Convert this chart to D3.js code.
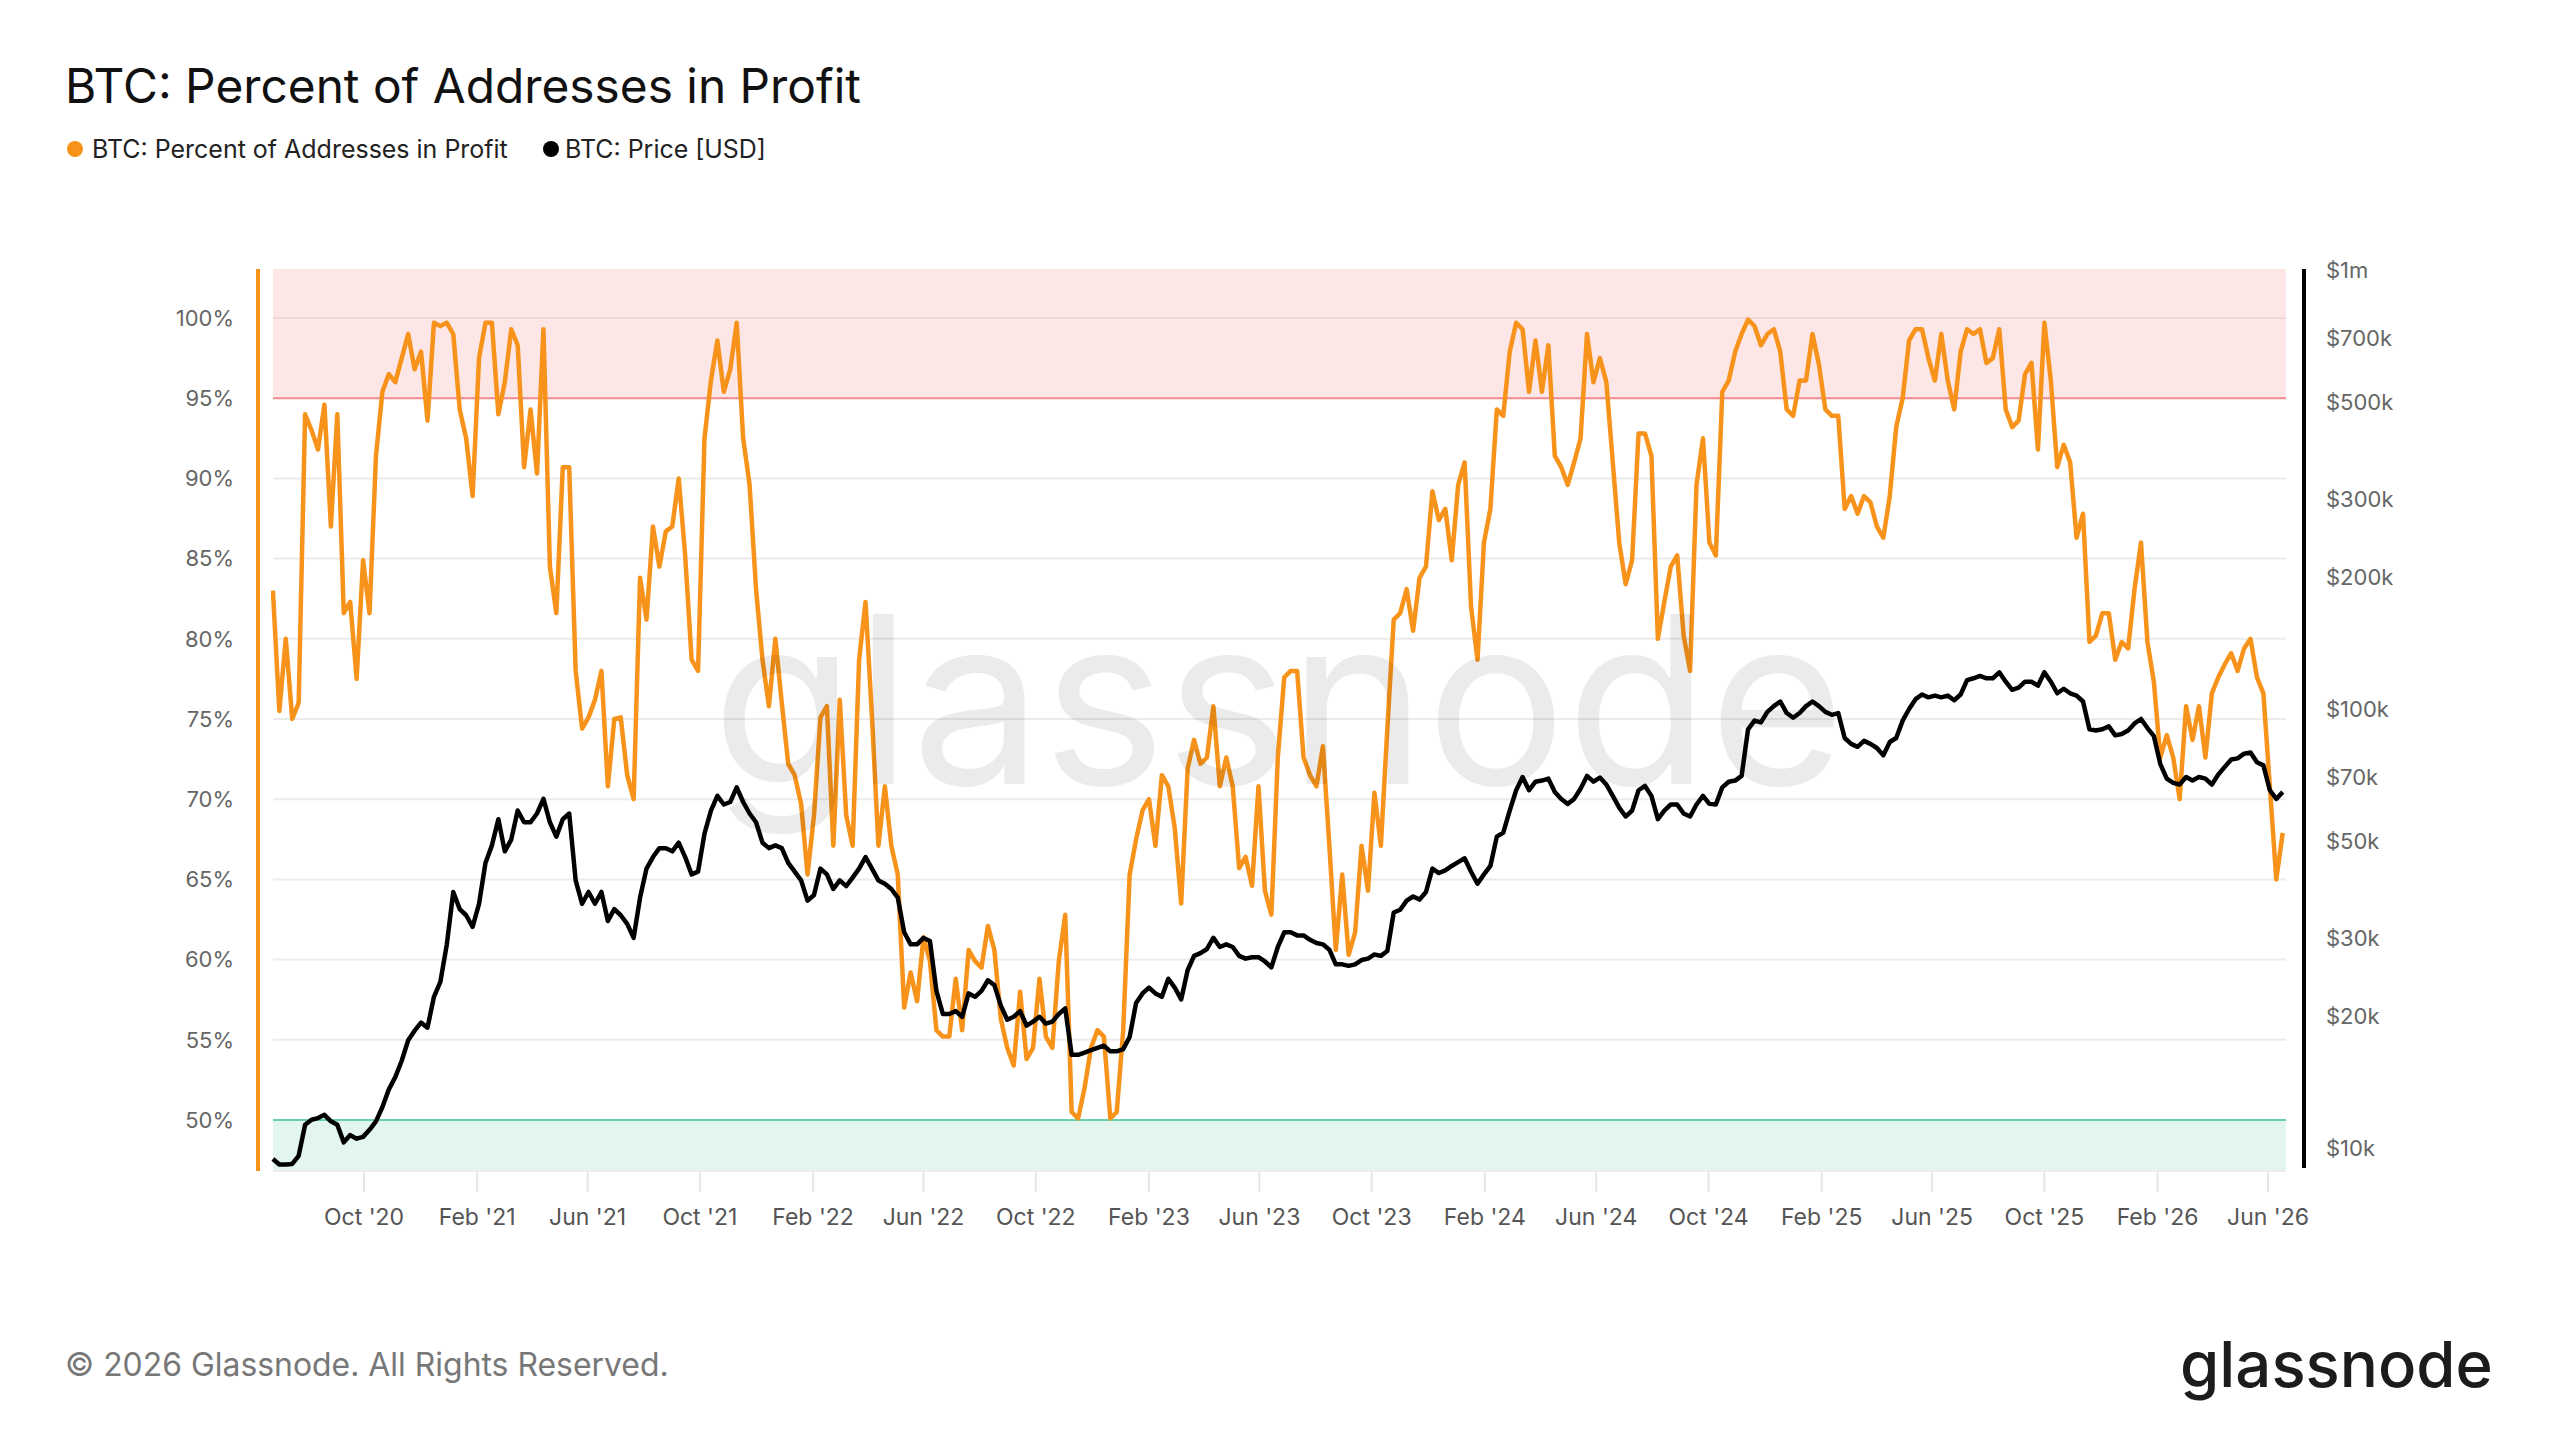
<!DOCTYPE html>
<html>
<head>
<meta charset="utf-8">
<title>BTC: Percent of Addresses in Profit</title>
<script src="https://cdn.jsdelivr.net/npm/d3@7"></script>
<style>
  html, body { margin: 0; padding: 0; background: #fff; }
  svg { display: block; font-family: Inter, "Noto Sans", sans-serif; }
</style>
</head>
<body>
<div id="chart"></div>
<script>
'use strict';

// one sample per week, starting here
var firstDay = '2020-06-24';

// BTC: Percent of Addresses in Profit (%)
var profitPct = [
  83, 75.5, 80, 75, 76, 94, 93, 91.8, 94.6, 87,
  94, 81.6, 82.3, 77.5, 84.9, 81.6, 91.4, 95.4, 96.5, 96,
  97.5, 99, 96.8, 97.9, 93.6, 99.7, 99.5, 99.7, 99, 94.3,
  92.5, 88.9, 97.5, 99.7, 99.7, 94, 96, 99.3, 98.3, 90.7,
  94.3, 90.3, 99.3, 84.5, 81.6, 90.7, 90.7, 78, 74.4, 75.1,
  76.2, 78, 70.8,
  75, 75.1, 71.5, 70, 83.8, 81.2, 87,
  84.5, 86.7, 87, 90, 85.2, 78.7, 78, 92.5, 96.1, 98.6,
  95.4, 96.8, 99.7, 92.5, 89.6, 83.1, 78.7, 75.8, 80, 76,
  72.2, 71.5, 69.7, 65.3, 69, 75.1, 75.8, 67.1, 76.2, 69,
  67.1, 78.7, 82.3, 75.1, 67.1, 70.8, 67.1, 65.3, 57, 59.2,
  57.4, 61.4, 59.9, 55.6, 55.2, 55.2,
  58.8, 55.6, 60.6, 59.9,
  59.5, 62.1, 60.6, 56.3, 54.5, 53.4, 58, 53.8, 54.5, 58.8,
  55.2, 54.5, 59.9, 62.8, 50.5, 50.1, 52, 54.5, 55.6, 55.2,
  50.1, 50.5, 55.6, 65.3, 67.5, 69.3, 70, 67.1, 71.5, 70.8,
  68.2, 63.5, 71.9, 73.7, 72.2, 72.6, 75.8, 70.8, 72.6, 70.8,
  65.7, 66.4, 64.6, 70.8, 64.3, 62.8, 72.6, 77.6,
  78, 78,
  72.6, 71.5, 70.8, 73.3, 67.1, 60.6, 65.3, 60.3, 61.7, 67.1,
  64.3, 70.4, 67.1, 74.4, 81.2, 81.6, 83.1, 80.5, 83.8, 84.5,
  89.2, 87.4, 88.1, 84.9, 89.6, 91, 82, 78.7, 86, 88.1,
  94.3, 93.9, 97.9, 99.7, 99.3, 95.4, 98.6, 95.4, 98.3, 91.4,
  90.7, 89.6, 91, 92.5, 99, 96, 97.5, 96, 91, 86,
  83.4,
  84.9, 92.8, 92.8, 91.4, 80, 82.3, 84.5, 85.2, 80.2,
  78, 89.6, 92.5, 86, 85.2, 95.4, 96.1, 97.9, 99, 99.9,
  99.5, 98.3, 99, 99.3, 97.9, 94.3, 93.9, 96.1, 96.1, 99,
  97.1, 94.3, 93.9, 93.9, 88.1, 88.9, 87.8, 88.9, 88.5, 87,
  86.3, 88.9, 93.2, 95, 98.6, 99.3, 99.3, 97.5, 96.1, 99,
  96.1, 94.3, 97.9, 99.3,
  99, 99.3, 97.2, 97.5, 99.3, 94.3,
  93.2, 93.6, 96.5, 97.2, 91.8, 99.7, 96.1, 90.7, 92.1, 91,
  86.3, 87.8, 79.8, 80.2, 81.6, 81.6, 78.7, 79.8, 79.4, 83.1,
  86, 79.8, 77.3, 72.6, 74, 72.6, 70, 75.8, 73.7, 75.8,
  72.6, 76.6, 77.6, 78.4, 79.1, 78, 79.4, 80, 77.6, 76.6,
  70.8, 65, 67.9
];

// BTC: Price [USD], thousands
var priceK = [
  9.44, 9.17, 9.17, 9.2, 9.6, 11.3, 11.6, 11.7, 11.9, 11.5,
  11.3, 10.3, 10.7, 10.5, 10.6, 11.0, 11.5, 12.4, 13.6, 14.5,
  15.8, 17.6, 18.5, 19.3, 18.8, 22.1, 23.9, 29.1, 38.3, 35.0,
  33.9, 31.9, 36.0, 44.6, 48.9, 56.1, 47.4, 50.4, 58.7, 55.2,
  55.2, 57.8, 62.4, 55.2, 51.2, 56.1, 57.8, 40.7, 36.0, 38.3,
  36.0, 38.3, 32.9,
  35.0, 33.9, 32.4, 30.1, 37.2, 43.3, 46.0,
  48.2, 48.2, 47.4, 49.6, 46.0, 42.0, 42.6, 52.0, 58.7, 63.4,
  60.6, 61.4, 66.3, 61.4, 57.8, 55.2, 49.6, 48.2, 48.9, 48.2,
  44.6, 42.6, 40.7, 36.6, 37.7, 43.3, 42.0, 38.9, 40.7, 39.5,
  41.3, 43.3, 46.0, 43.3, 40.7, 40.0, 38.9, 37.2, 31.0, 29.1,
  29.1, 30.1, 29.6, 22.8, 20.2, 20.2,
  20.5, 19.9, 22.5, 22.1,
  22.8, 24.1, 23.5, 21.1, 19.6, 19.9, 20.5, 19.0, 19.4, 19.9,
  19.2, 19.4, 20.2, 20.8, 16.3, 16.3, 16.5, 16.7, 16.9, 17.1,
  16.6, 16.6, 16.8, 17.9, 21.4, 22.5, 23.2, 22.5, 22.1, 24.3,
  23.2, 21.8, 25.4, 27.4, 27.8, 28.4, 30.1, 28.7, 29.1, 28.7,
  27.4, 27.0, 27.2, 27.2, 26.6, 25.8, 28.7, 31.0,
  31.0, 30.5,
  30.5, 29.8, 29.3, 29.1, 28.3, 26.2, 26.2, 26.0, 26.2, 26.8,
  27.0, 27.6, 27.4, 28.1, 34.4, 34.9, 36.6, 37.4, 36.8, 38.3,
  43.3, 42.3, 42.9, 43.9, 44.8, 45.7, 42.6, 40.0, 42.0, 43.9,
  51.2, 52.3, 58.7, 65.3, 70.0, 65.3, 68.3, 68.7, 69.4, 64.7,
  62.4, 60.8, 62.4, 65.8, 70.4, 68.3, 69.8, 67.3, 63.4, 59.6,
  56.9,
  58.7, 65.3, 66.8, 63.4, 56.1, 58.7, 60.6, 60.6, 57.8,
  56.9, 60.6, 63.4, 60.8, 60.6, 66.3, 68.3, 68.7, 70.4, 89.9,
  94.1, 93.2, 98.5, 101.5, 104.0, 97.9, 95.5, 97.9, 101.5, 104.0,
  101.5, 98.5, 97.0, 97.9, 85.9, 83.3, 82.0, 84.6, 83.3, 81.5,
  78.4, 84.1, 85.9, 94.1, 100, 105.3, 107.9, 106.3, 107.3, 106.3,
  107.3, 104.7, 107.9, 116.4,
  117.5, 118.9, 117.5, 117.5, 121.2, 115.4,
  110.6, 111.9, 115.4, 115.4, 113.0, 121.2, 115.4, 108.6, 111.2, 108.6,
  107.3, 104.0, 89.9, 89.3, 89.9, 91.3, 87.1, 87.7, 89.3, 92.7,
  94.9, 90.5, 86.7, 74.9, 69.4, 67.9, 67.3, 70.0, 68.7, 70.0,
  69.4, 67.3, 70.9, 73.8, 76.7, 77.2, 79.1, 79.6, 75.6, 74.4,
  65.3, 62.4, 64.7
];

var pctTicks = [50, 55, 60, 65, 70, 75, 80, 85, 90, 95, 100];
var priceTicks = [10000, 20000, 30000, 50000, 70000, 100000, 200000, 300000, 500000, 700000, 1000000];
var priceTickLabels = ['$10k', '$20k', '$30k', '$50k', '$70k', '$100k', '$200k', '$300k', '$500k', '$700k', '$1m'];
var monthTicks = ['2020-10-01', '2021-02-01', '2021-06-01', '2021-10-01', '2022-02-01', '2022-06-01',
  '2022-10-01', '2023-02-01', '2023-06-01', '2023-10-01', '2024-02-01', '2024-06-01',
  '2024-10-01', '2025-02-01', '2025-06-01', '2025-10-01', '2026-02-01', '2026-06-01'];

var W = 2560, H = 1440;
var plot = { left: 273, right: 2286, top: 269, bottom: 1171 };
var ORANGE = '#f7931a';

var parse = d3.utcParse('%Y-%m-%d');
var start = parse(firstDay);

var profitData = profitPct.map(function (v, i) {
  return { date: d3.utcDay.offset(start, i * 7), v: v };
});
var priceData = priceK.map(function (v, i) {
  return { date: d3.utcDay.offset(start, i * 7), v: v * 1000 };
});

var x = d3.scaleUtc()
  .domain([parse('2020-10-01'), parse('2026-06-01')])
  .range([364, 2268]);
var yPct = d3.scaleLinear().domain([50, 100]).range([1120, 318]);
var yPrice = d3.scaleLog().domain([10000, 1000000]).range([1148, 270]);

var svg = d3.select('#chart').append('svg')
  .attr('width', W)
  .attr('height', H);

svg.append('rect').attr('width', W).attr('height', H).attr('fill', '#fff');

// squeeze/stretch a text so it has the measured width
function fitWidth(t, w) {
  var len = t.node().getComputedTextLength();
  var fs = parseFloat(t.attr('font-size'));
  t.attr('font-size', fs * w / len);
  return t;
}

// title + legend
fitWidth(svg.append('text')
  .attr('x', 65).attr('y', 103)
  .attr('font-size', 48)
  .attr('fill', '#111')
  .text('BTC: Percent of Addresses in Profit'), 796);

var legend = [
  { label: 'BTC: Percent of Addresses in Profit', color: ORANGE, cx: 75, tx: 92, w: 416 },
  { label: 'BTC: Price [USD]', color: '#000', cx: 551, tx: 565, w: 201 }
];
legend.forEach(function (d) {
  svg.append('circle').attr('cx', d.cx).attr('cy', 149).attr('r', 8).attr('fill', d.color);
  fitWidth(svg.append('text')
    .attr('x', d.tx).attr('y', 158)
    .attr('font-size', 25)
    .attr('fill', '#222')
    .text(d.label), d.w);
});

// bands
svg.append('rect')
  .attr('x', plot.left).attr('y', plot.top)
  .attr('width', plot.right - plot.left)
  .attr('height', yPct(95) - plot.top)
  .attr('fill', '#fde6e6');
svg.append('rect')
  .attr('x', plot.left).attr('y', yPct(50))
  .attr('width', plot.right - plot.left)
  .attr('height', plot.bottom - yPct(50))
  .attr('fill', '#e2f6ee');

// grid
svg.append('g').selectAll('line')
  .data(pctTicks.filter(function (d) { return d != 50 && d != 95; }))
  .enter().append('line')
  .attr('x1', plot.left).attr('x2', plot.right)
  .attr('y1', function (d) { return yPct(d); })
  .attr('y2', function (d) { return yPct(d); })
  .attr('stroke', function (d) { return d == 100 ? '#f0d6d6' : '#ebebeb'; })
  .attr('stroke-width', 2);

svg.append('line')
  .attr('x1', plot.left).attr('x2', plot.right)
  .attr('y1', yPct(95)).attr('y2', yPct(95))
  .attr('stroke', '#ef8a8f').attr('stroke-width', 2);
svg.append('line')
  .attr('x1', plot.left).attr('x2', plot.right)
  .attr('y1', yPct(50)).attr('y2', yPct(50))
  .attr('stroke', '#69d1ab').attr('stroke-width', 2);
svg.append('line')
  .attr('x1', plot.left).attr('x2', plot.right)
  .attr('y1', plot.bottom).attr('y2', plot.bottom)
  .attr('stroke', '#ececec').attr('stroke-width', 2);

// x axis
var monthDates = monthTicks.map(parse);
var fmt = d3.utcFormat("%b '%y");
var xAxis = svg.append('g');
xAxis.selectAll('line')
  .data(monthDates)
  .enter().append('line')
  .attr('x1', function (d) { return x(d); })
  .attr('x2', function (d) { return x(d); })
  .attr('y1', plot.bottom + 1).attr('y2', plot.bottom + 21)
  .attr('stroke', '#e6e6e6').attr('stroke-width', 2);
xAxis.selectAll('text')
  .data(monthDates)
  .enter().append('text')
  .attr('x', function (d) { return x(d); })
  .attr('y', 1225)
  .attr('text-anchor', 'middle')
  .attr('font-size', 23)
  .attr('fill', '#555')
  .text(function (d) { return fmt(d); });

// left axis
svg.append('line')
  .attr('x1', 258).attr('x2', 258)
  .attr('y1', plot.top).attr('y2', plot.bottom)
  .attr('stroke', ORANGE).attr('stroke-width', 4);
svg.append('g').selectAll('text')
  .data(pctTicks)
  .enter().append('text')
  .attr('x', 234)
  .attr('y', function (d) { return yPct(d); })
  .attr('dy', '0.35em')
  .attr('text-anchor', 'end')
  .attr('font-size', 22)
  .attr('fill', '#666')
  .text(function (d) { return d + '%'; });

// right axis
svg.append('line')
  .attr('x1', 2304).attr('x2', 2304)
  .attr('y1', plot.top).attr('y2', plot.bottom - 3)
  .attr('stroke', '#000').attr('stroke-width', 4);
svg.append('g').selectAll('text')
  .data(priceTicks)
  .enter().append('text')
  .attr('x', 2326)
  .attr('y', function (d) { return yPrice(d); })
  .attr('dy', '0.35em')
  .attr('font-size', 22)
  .attr('fill', '#666')
  .text(function (d, i) { return priceTickLabels[i]; });

// series
svg.append('clipPath').attr('id', 'plotClip')
  .append('rect')
  .attr('x', plot.left - 2).attr('y', plot.top)
  .attr('width', plot.right - plot.left + 4)
  .attr('height', plot.bottom - plot.top);

var series = svg.append('g').attr('clip-path', 'url(#plotClip)');

var profitLine = d3.line()
  .x(function (d) { return x(d.date); })
  .y(function (d) { return yPct(d.v); });
var priceLine = d3.line()
  .x(function (d) { return x(d.date); })
  .y(function (d) { return yPrice(d.v); });

series.append('path')
  .datum(profitData)
  .attr('d', profitLine)
  .attr('fill', 'none')
  .attr('stroke', ORANGE)
  .attr('stroke-width', 4.5)
  .attr('stroke-linejoin', 'round');
series.append('path')
  .datum(priceData)
  .attr('d', priceLine)
  .attr('fill', 'none')
  .attr('stroke', '#000')
  .attr('stroke-width', 4.5)
  .attr('stroke-linejoin', 'round');

// watermark sits on top, faint
fitWidth(svg.append('text')
  .attr('x', 712).attr('y', 784)
  .attr('font-size', 230)
  .attr('fill', '#000')
  .attr('opacity', 0.075)
  .text('glassnode'), 1133);

// footer
fitWidth(svg.append('text')
  .attr('x', 65).attr('y', 1376)
  .attr('font-size', 30)
  .attr('fill', '#777')
  .text('\u00a9 2026 Glassnode. All Rights Reserved.'), 604);

fitWidth(svg.append('text')
  .attr('x', 2180).attr('y', 1387)
  .attr('font-size', 70)
  .attr('font-weight', 500)
  .attr('fill', '#1c1c1c')
  .text('glassnode'), 313);
</script>
</body>
</html>
